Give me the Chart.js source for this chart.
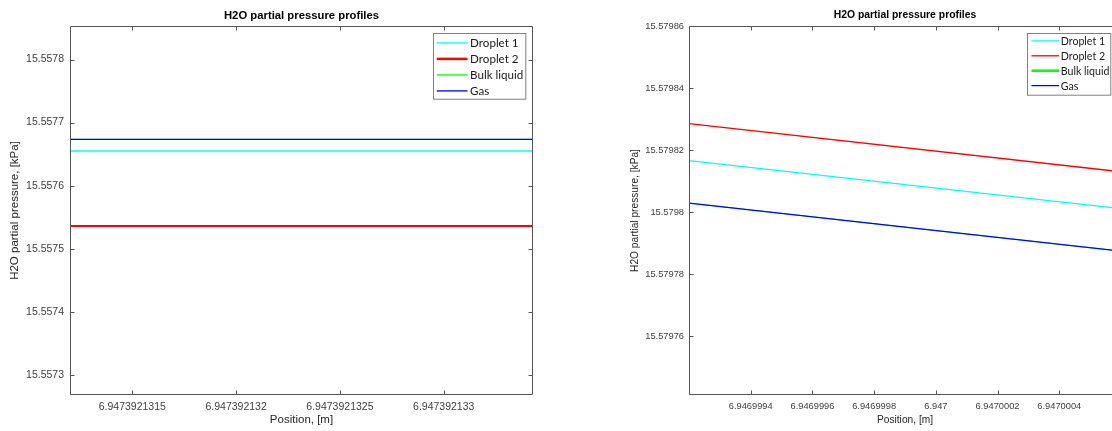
<!DOCTYPE html>
<html><head><meta charset="utf-8">
<script src="https://cdn.jsdelivr.net/npm/chart.js@4.4.1/dist/chart.umd.min.js"></script>
<style>
html,body{margin:0;padding:0;background:#fff;overflow:hidden;width:1112px;height:431px;position:relative;}
#c1{position:absolute;left:0;top:0;}
#c2{position:absolute;left:560px;top:0;}
</style></head><body>
<canvas id="c1" width="556" height="431"></canvas>
<canvas id="c2" width="600" height="431"></canvas>
<script>
// ---------- data ----------
const seriesNames = ['Droplet 1', 'Droplet 2', 'Bulk liquid', 'Gas'];
const seriesColors = ['#00FFFF', '#FF0000', '#00FF00', '#0000FF'];
const chartTitle = 'H2O partial pressure profiles';
const xTitle = 'Position, [m]';
const yTitle = 'H2O partial pressure, [kPa]';

// left panel
const leftX = [6.9473921312, 6.94739213343];
const leftDroplet1 = [15.557655, 15.557655];
const leftDroplet2 = [15.5575361, 15.5575361];
const leftBulk = [15.5576735, 15.5576735];
const leftGas = [15.5576735, 15.5576735];
const leftXTicks = [6.9473921315, 6.947392132, 6.9473921325, 6.947392133];
const leftXTickLabels = ['6.9473921315', '6.947392132', '6.9473921325', '6.947392133'];
const leftYTicks = [15.5573, 15.5574, 15.5575, 15.5576, 15.5577, 15.5578];
const leftYTickLabels = ['15.5573', '15.5574', '15.5575', '15.5576', '15.5577', '15.5578'];
const leftXRange = [6.9473921312, 6.94739213343];
const leftYRange = [15.5572683, 15.5578531];

// right panel
const rightX = [6.9469992, 6.9470006];
const rightDroplet1 = [15.5798166, 15.5798011];
const rightDroplet2 = [15.5798285, 15.579813];
const rightBulk = [15.5798029, 15.5797874];
const rightGas = [15.5798029, 15.5797874];
const rightXTicks = [6.9469994, 6.9469996, 6.9469998, 6.947, 6.9470002, 6.9470004];
const rightXTickLabels = ['6.9469994', '6.9469996', '6.9469998', '6.947', '6.9470002', '6.9470004'];
const rightYTicks = [15.57976, 15.57978, 15.5798, 15.57982, 15.57984, 15.57986];
const rightYTickLabels = ['15.57976', '15.57978', '15.5798', '15.57982', '15.57984', '15.57986'];
const rightXRange = [6.9469992, 6.9470006];
const rightYRange = [15.579741, 15.57986];

// ---------- helpers ----------
const FONT = '"Liberation Sans", Arial, sans-serif';

const framePlugin = {
  id: 'matlabFrame',
  afterDatasetsDraw(chart) {
    const {ctx, chartArea: a, scales} = chart;
    const L = Math.round(a.left) + 0.5, R = Math.round(a.right) - 0.5;
    const T = Math.round(a.top) + 0.5, B = Math.round(a.bottom) - 0.5;
    ctx.save();
    ctx.strokeStyle = '#555555';
    ctx.lineWidth = 1;
    ctx.beginPath();
    ctx.rect(L, T, R - L, B - T);
    ctx.stroke();
    const tl = 4;
    ctx.beginPath();
    scales.x.ticks.forEach(t => {
      const px = Math.round(scales.x.getPixelForValue(t.value)) + 0.5;
      ctx.moveTo(px, B); ctx.lineTo(px, B - tl);
      ctx.moveTo(px, T); ctx.lineTo(px, T + tl);
    });
    scales.y.ticks.forEach(t => {
      const py = Math.round(scales.y.getPixelForValue(t.value)) + 0.5;
      ctx.moveTo(L, py); ctx.lineTo(L + tl, py);
      ctx.moveTo(R, py); ctx.lineTo(R - tl, py);
    });
    ctx.stroke();
    ctx.restore();
  }
};

const legendPlugin = {
  id: 'boxLegend',
  afterDraw(chart) {
    const o = chart.options.plugins.boxLegend;
    const {ctx, chartArea: a} = chart;
    const bx = Math.round(a.right - o.rightGap - o.width) + 0.5;
    const by = Math.round(a.top + o.topGap) + 0.5;
    ctx.save();
    ctx.fillStyle = '#ffffff';
    ctx.fillRect(bx, by, o.width, o.height);
    ctx.strokeStyle = '#808080';
    ctx.lineWidth = 1;
    ctx.strokeRect(bx, by, o.width, o.height);
    ctx.font = `10px ${o.family}`;
    const w10 = ctx.measureText('Bulk liquid').width;
    const size = 10 * o.textWidth / w10;
    ctx.font = `${size}px ${o.family}`;
    ctx.textBaseline = 'middle';
    ctx.textAlign = 'left';
    chart.data.datasets.forEach((ds, i) => {
      const y = by + o.firstRow + i * o.rowStep;
      ctx.strokeStyle = ds.borderColor;
      ctx.lineWidth = ds.legendWidth || ds.borderWidth;
      ctx.beginPath();
      ctx.moveTo(bx + o.lineStart, y);
      ctx.lineTo(bx + o.lineStart + o.lineLen, y);
      ctx.stroke();
      ctx.fillStyle = '#1a1a1a';
      ctx.fillText(ds.label, bx + o.textX, y + 0.5);
    });
    ctx.restore();
  }
};

function makeChart(id, p) {
  const seriesData = [p.d1, p.d2, p.bulk, p.gas];
  const datasets = seriesNames.map((name, i) => ({
    label: name,
    data: p.x.map((xv, j) => ({x: xv, y: seriesData[i][j]})),
    borderColor: seriesColors[i],
    backgroundColor: seriesColors[i],
    borderWidth: p.widths[i],
    legendWidth: p.legendWidths[i],
    pointRadius: 0,
    fill: false,
    tension: 0,
    order: 4 - i
  }));
  return new Chart(document.getElementById(id), {
    type: 'line',
    data: {datasets},
    plugins: [framePlugin, legendPlugin],
    options: {
      responsive: false,
      animation: false,
      events: [],
      layout: {autoPadding: false, padding: {left: 0, right: p.padRight, top: 0, bottom: 0}},
      plugins: {
        legend: {display: false},
        tooltip: {enabled: false},
        title: {
          display: true, text: chartTitle, fullSize: false, color: '#000000',
          font: {family: FONT, size: p.titleSize, weight: 'bold', lineHeight: 1.2},
          padding: {top: p.titlePadTop, bottom: p.titlePadBottom}
        },
        boxLegend: p.legend
      },
      scales: {
        x: {
          type: 'linear', position: 'bottom',
          min: p.xRange[0], max: p.xRange[1],
          grid: {display: false, drawTicks: false},
          border: {display: false},
          afterBuildTicks: s => { s.ticks = p.xTicks.map(v => ({value: v})); },
          afterFit: s => { s.height = p.xAxisHeight; },
          ticks: {
            autoSkip: false, maxRotation: 0, minRotation: 0,
            padding: p.xTickPad, color: '#404040',
            font: {family: FONT, size: p.tickSize},
            callback: (v, i) => p.xTickLabels[i]
          },
          title: {
            display: true, text: xTitle, color: '#262626',
            font: {family: FONT, size: p.labelSize, lineHeight: 1.2},
            padding: {top: 0, bottom: p.xTitlePadBottom}
          }
        },
        y: {
          type: 'linear', position: 'left',
          min: p.yRange[0], max: p.yRange[1],
          grid: {display: false, drawTicks: false},
          border: {display: false},
          afterBuildTicks: s => { s.ticks = p.yTicks.map(v => ({value: v})); },
          afterFit: s => { s.width = p.yAxisWidth; },
          ticks: {
            autoSkip: false, padding: p.yTickPad, color: '#404040',
            font: {family: FONT, size: p.tickSize},
            callback: (v, i) => p.yTickLabels[i]
          },
          title: {
            display: true, text: yTitle, color: '#262626',
            font: {family: FONT, size: p.labelSize, lineHeight: 1.2},
            padding: {top: p.yTitlePadTop, bottom: 0}
          }
        }
      }
    }
  });
}

makeChart('c1', {
  x: leftX, d1: leftDroplet1, d2: leftDroplet2, bulk: leftBulk, gas: leftGas,
  xTicks: leftXTicks, xTickLabels: leftXTickLabels,
  yTicks: leftYTicks, yTickLabels: leftYTickLabels,
  xRange: leftXRange, yRange: leftYRange,
  widths: [1.3, 2, 0.9, 1.3], legendWidths: [1.3, 2.5, 1.3, 1.3],
  padRight: 23, titleSize: 11.3, titlePadTop: 8.7, titlePadBottom: 3.74,
  tickSize: 10.5, labelSize: 11.5,
  xAxisHeight: 36, xTickPad: 6, xTitlePadBottom: 4.2,
  yAxisWidth: 70, yTickPad: 6, yTitlePadTop: 8.1,
  legend: {rightGap: 8, topGap: 7.3, width: 92.3, height: 65.7, firstRow: 9.4, rowStep: 16,
           lineStart: 3.3, lineLen: 30.7, textX: 36.6, textWidth: 53.3, family: 'Lato, "Open Sans", sans-serif'}
});

makeChart('c2', {
  x: rightX, d1: rightDroplet1, d2: rightDroplet2, bulk: rightBulk, gas: rightGas,
  xTicks: rightXTicks, xTickLabels: rightXTickLabels,
  yTicks: rightYTicks, yTickLabels: rightYTickLabels,
  xRange: rightXRange, yRange: rightYRange,
  widths: [1.3, 1.3, 0.9, 1.3], legendWidths: [1.3, 1.3, 2.5, 1.3],
  padRight: 39, titleSize: 10.4, titlePadTop: 9.26, titlePadBottom: 4.26,
  tickSize: 9.3, labelSize: 10.2,
  xAxisHeight: 36, xTickPad: 6, xTitlePadBottom: 4.9,
  yAxisWidth: 129, yTickPad: 5, yTitlePadTop: 69.5,
  legend: {rightGap: 11, topGap: 7.3, width: 83.3, height: 61.7, firstRow: 7.4, rowStep: 14.9,
           lineStart: 4, lineLen: 27.6, textX: 33.3, textWidth: 48.7, family: 'Lato, "Open Sans", sans-serif'}
});
</script>
</body></html>
